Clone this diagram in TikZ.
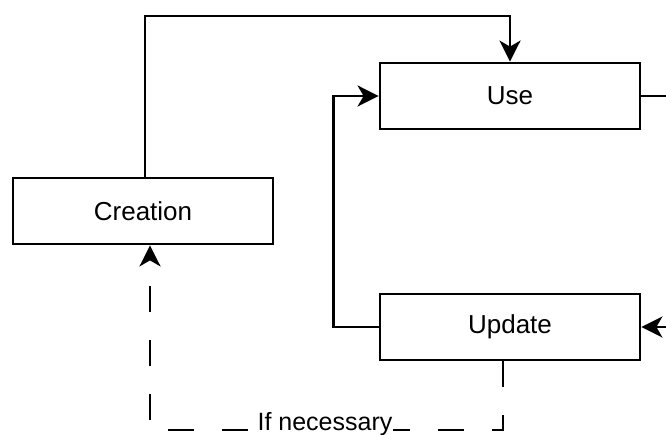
\documentclass[tikz,border=0pt]{standalone}
\usepackage{fontspec}
\setmainfont{Liberation Sans}
\usetikzlibrary{arrows.meta}
\tikzset{every picture/.style={line width=2.8pt}}

\begin{document}
\begin{tikzpicture}[x=1pt,y=1pt,yscale=-1,xscale=1,
  box/.style={draw, minimum width=260pt, minimum height=66pt, inner sep=0pt, font=\fontsize{26}{31}\selectfont},
  arr/.style={-{Stealth[length=21pt,width=21pt,inset=6pt]}},
  ifdash/.style={dash pattern=on 26pt off 28pt}]
\useasboundingbox (0,0) rectangle (666,435);

%Boxes
\node [box] (use) at (510,96) {Use};
\node [box] (creation) at (143,211) {Creation};
\node [box] (update) at (510,327) {Update};

%Free ends at the right edge
\coordinate (useout) at (666,96);
\coordinate (updin) at (666,327);
\coordinate (dashcorner) at (150,430);

%Creation -> Use
\draw [arr] ([xshift=2pt]creation.north) -- ([xshift=2pt]creation.north |- 0,16) -| (use.north);
%Update -> Use
\draw [arr] (update.west) -- ++(-45,0) |- (use.west);
%Use out, into Update
\draw (use.east) -- (useout);
\draw [arr] (updin) -- (update.east);
%Update -> Creation, dashed
\draw [arr, ifdash] ([xshift=-7pt]update.south) |- (dashcorner) -- ([xshift=7pt]creation.south);

% Text Node
\node [fill=white, inner sep=1pt, font=\fontsize{25}{30}\selectfont] (ifnec) at (325,424) {If necessary};

\end{tikzpicture}
\end{document}
